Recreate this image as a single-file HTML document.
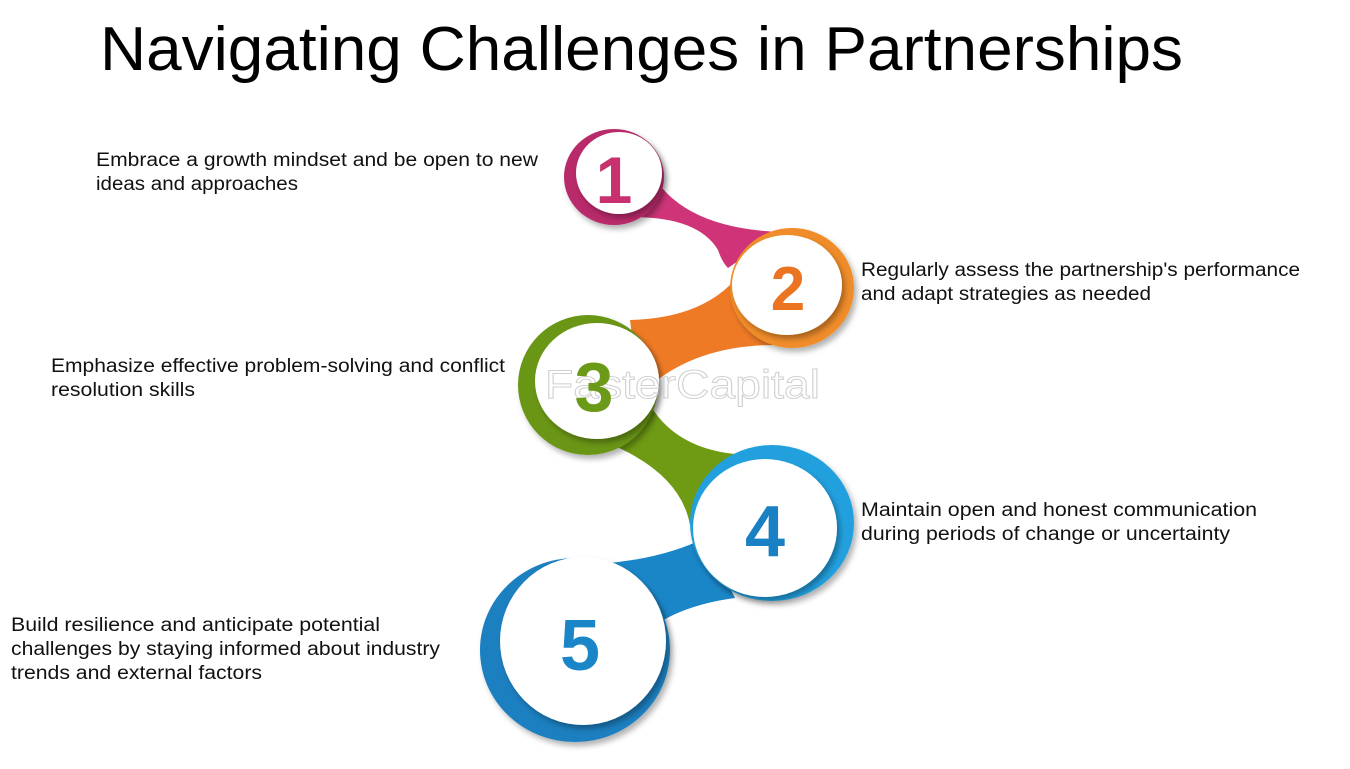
<!DOCTYPE html>
<html><head><meta charset="utf-8"><style>
html,body{margin:0;padding:0;background:#fff;width:1350px;height:769px;overflow:hidden}
svg{display:block}
.t{font-family:"Liberation Sans",sans-serif;font-size:19px;fill:#111}
.n{font-family:"Liberation Sans",sans-serif;font-weight:bold;text-anchor:middle}
</style></head><body>
<svg width="1350" height="769" viewBox="0 0 1350 769" xmlns="http://www.w3.org/2000/svg">
<defs>
<filter id="sh" x="-20%" y="-20%" width="140%" height="140%"><feDropShadow dx="3" dy="4" stdDeviation="3" flood-opacity="0.3"/></filter>
</defs>
<text x="100" y="70" font-family="Liberation Sans, sans-serif" font-size="62" textLength="1083" lengthAdjust="spacingAndGlyphs">Navigating Challenges in Partnerships</text>

<!-- connectors -->
<path d="M650,170 Q680,228 780,232 L728,268 Q722,262 718,250 Q695,212 612,218 Z" fill="#cf3479"/>
<path d="M748,262 Q715,318 630,320 L640,395 Q690,345 775,345 Z" fill="#ee7a25"/>
<path d="M650,405 Q680,455 755,455 L690,525 Q680,470 600,440 Z" fill="#6e9a14"/>
<path d="M705,538 Q650,565 565,565 L615,670 Q645,610 735,598 Z" fill="#1a86c8"/>

<!-- circles -->
<ellipse cx="575" cy="650" rx="95" ry="92" fill="#1a7fc0" filter="url(#sh)"/>
<ellipse cx="583" cy="641" rx="83" ry="84" fill="#fff" filter="url(#sh)"/>
<ellipse cx="772" cy="523" rx="82" ry="78" fill="#24a0de" filter="url(#sh)"/>
<ellipse cx="765" cy="528" rx="72" ry="69" fill="#fff" filter="url(#sh)"/>
<ellipse cx="588" cy="385" rx="70" ry="70" fill="#6a9616" filter="url(#sh)"/>
<ellipse cx="597" cy="381" rx="62" ry="58" fill="#fff" filter="url(#sh)"/>
<ellipse cx="792" cy="288" rx="62" ry="60" fill="#f08d2b" filter="url(#sh)"/>
<ellipse cx="787" cy="285" rx="55" ry="50" fill="#fff" filter="url(#sh)"/>
<ellipse cx="614" cy="177" rx="50" ry="48" fill="#b82c6a" filter="url(#sh)"/>
<ellipse cx="619" cy="173" rx="43" ry="41" fill="#fff" filter="url(#sh)"/>

<text x="545" y="398" font-family="Liberation Sans, sans-serif" font-size="40" fill="none" stroke="#ccc" stroke-width="1" opacity="0.9" textLength="275" lengthAdjust="spacingAndGlyphs">FasterCapital</text>
<text class="n" x="614" y="203" font-size="66" fill="#c9306e">1</text>
<text class="n" x="788" y="310" font-size="62" fill="#ea7422">2</text>
<text class="n" x="594" y="411" font-size="70" fill="#6a9a18">3</text>
<text class="n" x="765" y="556" font-size="72" fill="#1a80c4">4</text>
<text class="n" x="580" y="670" font-size="72" fill="#1a86c8">5</text>

<text class="t" x="96" y="166" textLength="442" lengthAdjust="spacingAndGlyphs">Embrace a growth mindset and be open to new</text>
<text class="t" x="96" y="190" textLength="202" lengthAdjust="spacingAndGlyphs">ideas and approaches</text>
<text class="t" x="861" y="276" textLength="439" lengthAdjust="spacingAndGlyphs">Regularly assess the partnership's performance</text>
<text class="t" x="861" y="300" textLength="290" lengthAdjust="spacingAndGlyphs">and adapt strategies as needed</text>
<text class="t" x="51" y="372" textLength="454" lengthAdjust="spacingAndGlyphs">Emphasize effective problem-solving and conflict</text>
<text class="t" x="51" y="396" textLength="144" lengthAdjust="spacingAndGlyphs">resolution skills</text>
<text class="t" x="861" y="516" textLength="396" lengthAdjust="spacingAndGlyphs">Maintain open and honest communication</text>
<text class="t" x="861" y="540" textLength="369" lengthAdjust="spacingAndGlyphs">during periods of change or uncertainty</text>
<text class="t" x="11" y="631" textLength="369" lengthAdjust="spacingAndGlyphs">Build resilience and anticipate potential</text>
<text class="t" x="11" y="655" textLength="429" lengthAdjust="spacingAndGlyphs">challenges by staying informed about industry</text>
<text class="t" x="11" y="679" textLength="251" lengthAdjust="spacingAndGlyphs">trends and external factors</text>
</svg>
</body></html>
